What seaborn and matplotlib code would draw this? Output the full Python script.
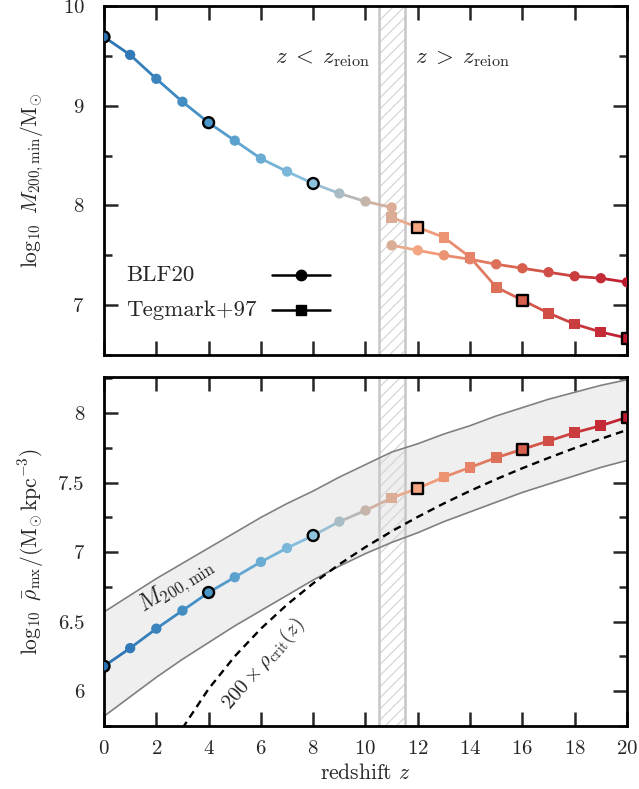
import numpy as np
import pandas as pd
import matplotlib
matplotlib.use("Agg")
import matplotlib.pyplot as plt
from matplotlib.collections import LineCollection
from matplotlib.colors import LinearSegmentedColormap, Normalize
from matplotlib.ticker import MultipleLocator, FuncFormatter
import seaborn as sns

# ---------------------------------------------------------------- data
# redshift grids
z_pre = list(range(0, 12))      # BLF20 branch before reionization (0..11)
z_post = list(range(11, 21))    # branches after reionization (11..20)
z_all = list(range(0, 21))
z_crit = list(range(3, 21))

# log10 M200,min / Msun
m_blf_pre = [9.69, 9.51, 9.27, 9.04, 8.83, 8.65, 8.47, 8.34, 8.22, 8.12, 8.04, 7.98]
m_blf_post = [7.60, 7.55, 7.50, 7.46, 7.41, 7.37, 7.33, 7.29, 7.27, 7.23]
m_teg = [7.88, 7.78, 7.68, 7.48, 7.18, 7.05, 6.92, 6.81, 6.73, 6.67]

# log10 mean density within r_mx / (Msun kpc^-3)
rho_mx = [6.18, 6.31, 6.45, 6.58, 6.71, 6.82, 6.93, 7.03, 7.12, 7.22, 7.30,
          7.39, 7.46, 7.54, 7.61, 7.68, 7.74, 7.80, 7.86, 7.91, 7.97]

# spread of rho_mx for haloes of mass M200,min
band_hi = [6.57, 6.69, 6.81, 6.92, 7.03, 7.14, 7.25, 7.35, 7.44, 7.54, 7.63,
           7.72, 7.78, 7.85, 7.91, 7.98, 8.04, 8.10, 8.15, 8.20, 8.24]
band_lo = [5.82, 5.96, 6.10, 6.23, 6.35, 6.47, 6.58, 6.69, 6.80, 6.90, 6.99,
           7.07, 7.14, 7.22, 7.29, 7.36, 7.43, 7.49, 7.55, 7.61, 7.66]

# log10 (200 x rho_crit(z)) / (Msun kpc^-3)
rho_200crit = [5.734, 6.017, 6.251, 6.450, 6.623, 6.776, 6.913, 7.037, 7.150,
               7.254, 7.351, 7.441, 7.525, 7.604, 7.678, 7.749, 7.815, 7.879]

z_mark_circ = [0, 4, 8]
z_mark_sq = [12, 16, 20]
z_reion = (10.5, 11.5)
legend_labels = ["BLF20", "Tegmark+97"]
legend_markers = ["o", "s"]

# ---------------------------------------------------------------- style
sns.set_style("ticks")
plt.rcParams.update({
    "font.family": ["cmr10", "DejaVu Serif"],
    "mathtext.fontset": "cm",
    "axes.formatter.use_mathtext": True,
    "axes.unicode_minus": False,
    "font.size": 15,
    "hatch.linewidth": 0.8,
    "axes.linewidth": 2.0,
})

cmap = LinearSegmentedColormap.from_list(
    "zcol",
    [(0.0, "#2a71b2"), (0.2, "#4a96c8"), (0.4, "#8dc2df"), (0.5, "#c4b4aa"),
     (0.6, "#f4a582"), (0.8, "#d6604d"), (1.0, "#be1b30")])
norm = Normalize(0, 20)

fig = plt.figure(figsize=(6.39, 7.89), dpi=100)
ax1 = fig.add_axes([0.16275, 0.55006, 0.81847, 0.44233])
ax2 = fig.add_axes([0.16275, 0.07985, 0.81847, 0.44233])


def gradient_line(ax, x, y, lw=2.0, zorder=3):
    pts = np.column_stack([np.asarray(x, float), np.asarray(y, float)])
    segs = np.stack([pts[:-1], pts[1:]], axis=1)
    mid = 0.5 * (pts[:-1, 0] + pts[1:, 0])
    lc = LineCollection(segs, colors=cmap(norm(mid)), linewidths=lw,
                        capstyle="round", zorder=zorder)
    ax.add_collection(lc)


def markers(ax, x, y, marker, size, edge=False, zorder=4):
    df = pd.DataFrame({"z": x, "v": y})
    sns.scatterplot(data=df, x="z", y="v", hue="z", palette=cmap, hue_norm=norm,
                    marker=marker, s=size, legend=False, ax=ax, zorder=zorder,
                    edgecolor="black" if edge else "none",
                    linewidth=1.7 if edge else 0)


def reion_band(ax):
    ax.axvspan(*z_reion, facecolor="none", edgecolor="#d2d2d2", hatch="///",
               linewidth=0, zorder=1.5)
    for zz in z_reion:
        ax.axvline(zz, color="#c6c6c6", lw=1.8, zorder=1.6)


# ---------------------------------------------------------------- top panel
reion_band(ax1)
gradient_line(ax1, z_pre, m_blf_pre)
gradient_line(ax1, z_post, m_blf_post)
gradient_line(ax1, z_post, m_teg)
markers(ax1, z_pre, m_blf_pre, "o", 55)
markers(ax1, z_post, m_blf_post, "o", 55)
markers(ax1, z_post, m_teg, "s", 60)
pre = dict(zip(z_pre, m_blf_pre))
teg = dict(zip(z_post, m_teg))
markers(ax1, z_mark_circ, [pre[z] for z in z_mark_circ], "o", 62, edge=True, zorder=5)
markers(ax1, z_mark_sq, [teg[z] for z in z_mark_sq], "s", 62, edge=True, zorder=5)

ax1.text(10.15, 9.47, r"$z\;<\;z_{\rm reion}$", ha="right", va="center", fontsize=16.5)
ax1.text(11.9, 9.47, r"$z\;>\;z_{\rm reion}$", ha="left", va="center", fontsize=16.5)

# key: label on the left, black line with marker on the right
for row, (lab, mk) in enumerate(zip(legend_labels, legend_markers)):
    yk = 0.229 - 0.100 * row
    ax1.text(0.042, yk, lab, transform=ax1.transAxes, ha="left", va="center",
             fontsize=16.5)
    ax1.plot([0.321, 0.432], [yk, yk], color="black", lw=1.8,
             transform=ax1.transAxes, zorder=6, clip_on=False)
    ax1.plot([0.376], [yk], color="black", marker=mk, ms=7.5, ls="none",
             transform=ax1.transAxes, zorder=6, clip_on=False)

ax1.set_ylim(6.5, 10.0)
ax1.yaxis.set_major_locator(MultipleLocator(1))
ax1.yaxis.set_minor_locator(MultipleLocator(0.5))
ax1.set_ylabel(r"$\log_{10}\ M_{200,{\rm min}}/{\rm M}_{\odot}$", fontsize=15.5)
ax1.set_xlabel("")
ax1.tick_params(labelbottom=False)

# ---------------------------------------------------------------- bottom panel
ax2.fill_between(z_all, band_lo, band_hi, color="#efefef", lw=0, zorder=1)
reion_band(ax2)
ax2.plot(z_all, band_hi, color="#808080", lw=1.2, zorder=2)
ax2.plot(z_all, band_lo, color="#808080", lw=1.2, zorder=2)
sns.lineplot(x=z_crit, y=rho_200crit, color="black", lw=1.7,
             linestyle=(0, (3.2, 2.2)), ax=ax2, zorder=2.5)
gradient_line(ax2, z_all, rho_mx)
markers(ax2, z_all, rho_mx, "o", 55)
markers(ax2, z_post, rho_mx[11:], "s", 60)
rho = dict(zip(z_all, rho_mx))
markers(ax2, z_mark_circ, [rho[z] for z in z_mark_circ], "o", 62, edge=True, zorder=5)
markers(ax2, z_mark_sq, [rho[z] for z in z_mark_sq], "s", 62, edge=True, zorder=5)

ax2.text(2.78, 6.76, r"$M_{200,{\rm min}}$", rotation=32, ha="center",
         va="center", rotation_mode="anchor", fontsize=17)
ax2.text(6.09, 6.20, r"$200\times\rho_{\rm crit}(z)$", rotation=49, ha="center",
         va="center", rotation_mode="anchor", fontsize=15)

ax2.set_ylim(5.75, 8.26)
ax2.yaxis.set_major_locator(MultipleLocator(0.5))
ax2.yaxis.set_minor_locator(MultipleLocator(0.25))
ax2.yaxis.set_major_formatter(FuncFormatter(lambda v, p: f"{v:g}"))
ax2.set_ylabel(r"$\log_{10}\ \bar{\rho}_{\rm mx}/({\rm M}_{\odot}\,{\rm kpc}^{-3})$",
               fontsize=15.5)
ax2.set_xlabel(r"redshift $z$", fontsize=15.5)

for ax in (ax1, ax2):
    ax.set_xlim(0, 20)
    ax.xaxis.set_major_locator(MultipleLocator(2))
    ax.tick_params(which="both", direction="in", top=True, right=True,
                   width=1.8, labelsize=15)
    ax.tick_params(which="major", length=10)
    ax.tick_params(which="minor", length=6)
    ax.tick_params(axis="y", which="major", pad=14)
    ax.tick_params(axis="x", which="major", pad=10)
    for s in ax.spines.values():
        s.set_linewidth(2.0)
        s.set_color("black")
    ax.yaxis.set_label_coords(-0.11, 0.5)

fig.savefig("out.png", dpi=100)
